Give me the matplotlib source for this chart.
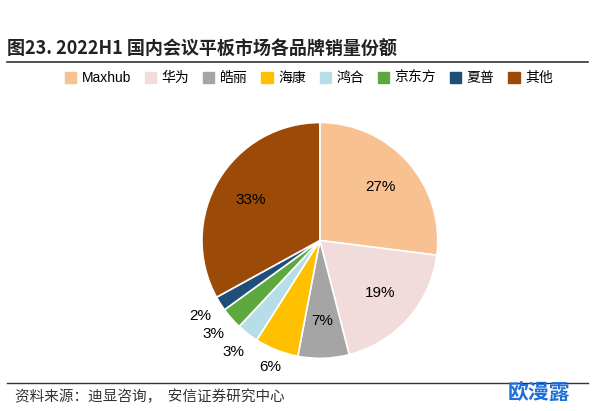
import matplotlib.pyplot as plt
import numpy as np
plt.rcParams['font.family'] = ['Noto Sans CJK SC', 'DejaVu Sans']

brands = ['Maxhub', '华为', '皓丽', '海康', '鸿合', '京东方', '夏普', '其他']
shares = [27, 19, 7, 6, 3, 3, 2, 33]
colors = ['#F8C191', '#F2DCDB', '#A5A5A5', '#FFC000', '#B7DEE8', '#5DA83F', '#1F4E79', '#9C4A07']

fig = plt.figure(figsize=(5.94, 4.11), dpi=100)
ax = fig.add_axes([0.34, 0.128, 0.397, 0.574])
wedges, _ = ax.pie(shares, colors=colors, startangle=90, counterclock=False,
                   wedgeprops=dict(edgecolor='white', linewidth=1.2))
ax.set_xlim(-1, 1)
ax.set_ylim(-1, 1)
ax.set_aspect('equal')
for w, v in zip(wedges, shares):
    ang = np.deg2rad((w.theta1 + w.theta2) / 2)
    r = 0.68 if v >= 7 else 1.15
    if v < 6:
        r = 1.2
    ax.text(r*np.cos(ang), r*np.sin(ang), f'{v}%', ha='center', va='center', fontsize=11,
            family=['Liberation Sans'])

handles = [plt.Rectangle((0, 0), 1, 1, color=c) for c in colors]
fig.legend(handles, brands, loc='center', bbox_to_anchor=(0.52, 0.81), ncol=8, frameon=False,
           handlelength=0.8, handleheight=0.8, columnspacing=1.0, handletextpad=0.4,
           prop={'family': ['Liberation Sans', 'Noto Sans CJK SC'], 'size': 10})

fig.text(0.012, 0.868, '图23. 2022H1 国内会议平板市场各品牌销量份额', fontsize=13, fontweight='bold', color='#222222')
fig.add_artist(plt.Line2D([0.012, 0.99], [0.848, 0.848], color='#333333', lw=1.2))
fig.add_artist(plt.Line2D([0.012, 0.99], [0.068, 0.068], color='#333333', lw=1))
fig.text(0.025, 0.025, '资料来源：迪显咨询，  安信证券研究中心', fontsize=10.5, style='italic', color='#333333')
fig.text(0.855, 0.03, '欧漫露', fontsize=15, fontweight='bold', color='#1E6FD9')
fig.savefig('out.png')
